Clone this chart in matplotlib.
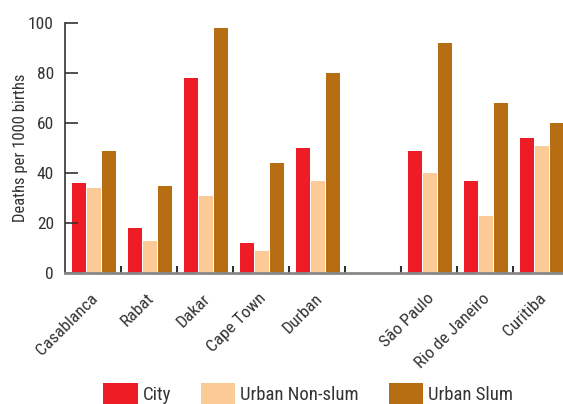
import matplotlib
matplotlib.use("Agg")
import matplotlib.pyplot as plt
from matplotlib.transforms import ScaledTranslation
import numpy as np

cities = ["Casablanca", "Rabat", "Dakar", "Cape Town", "Durban",
          "São Paulo", "Rio de Janeiro", "Curitiba"]
city = [36, 18, 78, 12, 50, 49, 37, 54]
urban_nonslum = [34, 13, 31, 9, 37, 40, 23, 51]
urban_slum = [49, 35, 98, 44, 80, 92, 68, 60]
series_names = ["City", "Urban Non-slum", "Urban Slum"]
colors = ["#EE1C25", "#FCCA96", "#B76E12"]
yticks = [0, 20, 40, 60, 80, 100]

plt.rcParams['font.family'] = ['Roboto Condensed', 'Archivo Narrow', 'DejaVu Sans']
txt = "#333333"

fig = plt.figure(figsize=(5.63, 4.04), dpi=100)
W, H = 563, 404
slot = 56
ax = fig.add_axes([65 / W, 131 / H, 9 * slot / W, 250 / H])

# slot index for each city (gap slot after Durban)
slots = np.array([i if i < 5 else i + 1 for i in range(len(cities))])
bw = 14 / slot
step = 15 / slot
off0 = 7 / slot + bw / 2
for k, (vals, name, c) in enumerate(zip([city, urban_nonslum, urban_slum], series_names, colors)):
    ax.bar(slots + off0 + k * step, vals, width=bw, color=c, label=name, linewidth=0)

ax.set_xlim(0, 9)
ax.set_ylim(0, 100)
ax.set_yticks(yticks)
ax.tick_params(axis='y', direction='in', length=9, width=1.2, color='#333333',
               labelsize=12.5, labelcolor=txt, pad=8)
ax.set_ylabel("Deaths per 1000 births", fontsize=12, color=txt)
ax.yaxis.set_label_coords(-0.074, 0.5)

# group separators as minor ticks, labels at centres
ax.set_xticks(np.arange(1, 9), minor=True)
ax.set_xticks(slots + off0 + step)
ax.set_xticklabels(cities, rotation=45, ha='right', va='baseline', rotation_mode='anchor')
ax.tick_params(axis='x', which='major', length=0, labelsize=12.5, labelcolor=txt, pad=19)
ax.tick_params(axis='x', which='minor', direction='in', length=5, width=1.5, color='#333333')
shift = ScaledTranslation(5 / 100, 0, fig.dpi_scale_trans)
for lab in ax.get_xticklabels():
    lab.set_transform(lab.get_transform() + shift)

for s in ['top', 'right']:
    ax.spines[s].set_visible(False)
ax.spines['left'].set_color('#333333')
ax.spines['left'].set_linewidth(1.2)
ax.spines['bottom'].set_color('#888888')
ax.spines['bottom'].set_linewidth(2)

fig.legend(loc='upper left', bbox_to_anchor=(103 / W, 1 - 383 / H), ncol=3, frameon=False,
           fontsize=13.5, handlelength=1.85, handleheight=1.4, columnspacing=1.6,
           handletextpad=0.25, borderpad=0, borderaxespad=0, labelcolor=txt)

fig.savefig("out.png", dpi=100)
